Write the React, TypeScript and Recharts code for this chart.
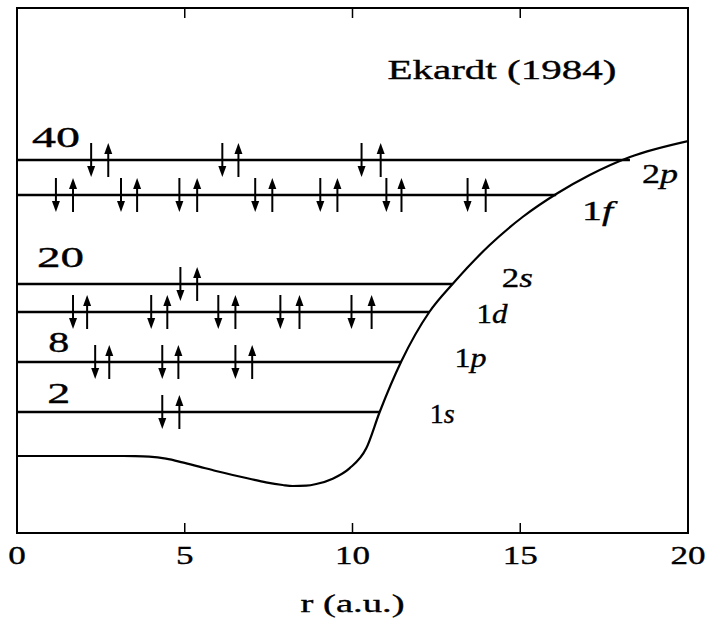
import React from 'react';
import { ComposedChart, Line, Scatter, XAxis, YAxis, ReferenceArea, ReferenceDot } from 'recharts';

const FONT = '"Liberation Serif", "Times New Roman", Times, serif';

// ---- data (r in a.u., energy in arbitrary units) ----
const potentialR = [0, 3.0, 3.5, 3.94, 4.44, 4.93, 5.43, 5.93, 6.43, 6.93, 7.42, 7.92, 8.22, 8.62, 8.92, 9.41, 9.91, 10.41, 10.81, 11.46, 12.29, 13.01, 14.09, 15.07, 16.12, 17.07, 18.27, 20];
const potentialE = [1.54, 1.54, 1.537, 1.527, 1.487, 1.413, 1.327, 1.24, 1.16, 1.085, 1.013, 0.96, 0.94, 0.947, 0.98, 1.087, 1.293, 1.693, 2.42, 3.44, 4.42, 5.0, 5.76, 6.32, 6.8, 7.16, 7.52, 7.84];

const levelNames = ['1s', '1p', '1d', '2s', '1f', '2p'];
const levelEnergies = [2.42, 3.42, 4.42, 4.98, 6.76, 7.46];
const levelEnds = [10.8, 11.45, 12.29, 12.97, 16.07, 18.27];

const spinDownR = [
  [4.33],
  [2.33, 4.33, 6.51],
  [1.67, 4.0, 6.0, 7.85, 9.97],
  [4.87],
  [1.16, 3.1, 4.84, 7.1, 9.04, 11.01, 13.43],
  [2.21, 6.12, 10.27],
];
const spinUpR = [
  [4.84],
  [2.75, 4.81, 7.01],
  [2.09, 4.48, 6.51, 8.42, 10.57],
  [5.37],
  [1.67, 3.58, 5.37, 7.61, 9.55, 11.46, 13.97],
  [2.72, 6.6, 10.84],
];

const magicNumbers = ['2', '8', '20', '40'];
const xTicks = [0, 5, 10, 15, 20];
const topTicks = [5, 10, 15];
const titleText = 'Ekardt (1984)';
const xLabelText = 'r (a.u.)';

// ---- annotation placement (data coordinates) ----
const magicPos = [
  { r: 0.9, E: 2.6, w: 23 },
  { r: 0.93, E: 3.62, w: 21 },
  { r: 0.6, E: 5.32, w: 47 },
  { r: 0.45, E: 7.72, w: 48 },
];
const orbitalPos = [
  { r: 12.3, E: 2.2, w: 25 },
  { r: 13.04, E: 3.32, w: 32 },
  { r: 13.7, E: 4.2, w: 31 },
  { r: 14.45, E: 4.92, w: 31 },
  { r: 16.84, E: 6.26, w: 31 },
  { r: 18.63, E: 7.0, w: 36 },
];
const titlePos = { r: 11.04, E: 9.08, w: 229 };

// ---- derived tables ----
const potentialData = potentialR.map((r, i) => ({ r, E: potentialE[i] }));
const levelData = levelNames.map((name, i) => ({
  name,
  points: [
    { r: 0, E: levelEnergies[i] },
    { r: levelEnds[i], E: levelEnergies[i] },
  ],
}));
const spinData: { r: number; E: number; dir: string }[] = [];
levelNames.forEach((_, i) => {
  spinDownR[i].forEach((r) => spinData.push({ r, E: levelEnergies[i], dir: 'down' }));
  spinUpR[i].forEach((r) => spinData.push({ r, E: levelEnergies[i], dir: 'up' }));
});

const SpinArrow = (props: any) => {
  const { cx, cy, payload } = props;
  if (cx == null || cy == null) return null;
  const L = 17;
  const h = 11;
  const w = 4;
  if (payload.dir === 'down') {
    return (
      <g>
        <line x1={cx} x2={cx} y1={cy - L} y2={cy + L - h + 1} stroke="#000" strokeWidth={2} />
        <polygon points={`${cx - w},${cy + L - h} ${cx + w},${cy + L - h} ${cx},${cy + L}`} fill="#000" />
      </g>
    );
  }
  return (
    <g>
      <line x1={cx} x2={cx} y1={cy + L} y2={cy - L + h - 1} stroke="#000" strokeWidth={2} />
      <polygon points={`${cx - w},${cy - L + h} ${cx + w},${cy - L + h} ${cx},${cy - L}`} fill="#000" />
    </g>
  );
};

const BottomTick = (props: any) => {
  const { x, y, payload } = props;
  return (
    <g>
      <line x1={x} x2={x} y1={y} y2={y - 10} stroke="#000" strokeWidth={1.5} />
      <text
        x={0}
        y={0}
        textAnchor="middle"
        fontFamily={FONT}
        fontSize={26}
        fill="#000"
        stroke="#000"
        strokeWidth={0.35}
        transform={`translate(${x} ${y + 31}) scale(1.35 1)`}
      >
        {payload.value}
      </text>
    </g>
  );
};

const TopTick = (props: any) => {
  const { x, y } = props;
  return <line x1={x} x2={x} y1={y} y2={y + 10} stroke="#000" strokeWidth={1.5} />;
};

const textShape = (content: React.ReactNode, width: number, size: number) => (props: any) => {
  const { cx, cy } = props;
  return (
    <text
      x={cx}
      y={cy}
      fontFamily={FONT}
      fontSize={size}
      fill="#000"
      stroke="#000"
      strokeWidth={0.35}
      textLength={width}
      lengthAdjust="spacingAndGlyphs"
    >
      {content}
    </text>
  );
};

const XLabel = (props: any) => {
  const { viewBox } = props;
  const cx = viewBox.x + viewBox.width / 2;
  return (
    <text
      x={cx}
      y={viewBox.y + 79}
      textAnchor="middle"
      fontFamily={FONT}
      fontSize={26}
      fill="#000"
      stroke="#000"
      strokeWidth={0.35}
      textLength={104}
      lengthAdjust="spacingAndGlyphs"
    >
      {xLabelText}
    </text>
  );
};

export default function App() {
  return (
    <div style={{ position: 'absolute', left: 0, top: 0, background: '#fff' }}>
      <ComposedChart width={706} height={619} margin={{ top: 6, right: 18, bottom: 46, left: 17 }}>
        <XAxis
          xAxisId={0}
          type="number"
          dataKey="r"
          domain={[0, 20]}
          ticks={xTicks}
          interval={0}
          height={40}
          axisLine={false}
          tickLine={false}
          tickSize={0}
          tickMargin={0}
          tick={<BottomTick />}
          label={<XLabel />}
          allowDataOverflow
        />
        <XAxis
          xAxisId="top"
          orientation="top"
          type="number"
          dataKey="r"
          domain={[0, 20]}
          ticks={topTicks}
          interval={0}
          height={2}
          axisLine={false}
          tickLine={false}
          tickSize={0}
          tickMargin={0}
          tick={<TopTick />}
          allowDataOverflow
        />
        <YAxis type="number" dataKey="E" domain={[0, 10.5]} hide allowDataOverflow />
        <ReferenceArea
          x1={0}
          x2={20}
          y1={0}
          y2={10.5}
          fill="none"
          fillOpacity={0}
          stroke="#000"
          strokeWidth={2}
          ifOverflow="visible"
        />
        <Line
          data={potentialData}
          dataKey="E"
          type="monotone"
          stroke="#000"
          strokeWidth={2.2}
          dot={false}
          activeDot={false}
          isAnimationActive={false}
        />
        {levelData.map((lv) => (
          <Line
            key={lv.name}
            data={lv.points}
            dataKey="E"
            type="linear"
            stroke="#000"
            strokeWidth={2.5}
            dot={false}
            activeDot={false}
            isAnimationActive={false}
          />
        ))}
        <Scatter data={spinData} dataKey="E" shape={<SpinArrow />} isAnimationActive={false} />
        {magicNumbers.map((m, i) => (
          <ReferenceDot
            key={'m' + m}
            x={magicPos[i].r}
            y={magicPos[i].E}
            r={0}
            ifOverflow="visible"
            shape={textShape(m, magicPos[i].w, 29)}
          />
        ))}
        {levelNames.map((name, i) => (
          <ReferenceDot
            key={'o' + name}
            x={orbitalPos[i].r}
            y={orbitalPos[i].E}
            r={0}
            ifOverflow="visible"
            shape={textShape(
              <>
                {name[0]}
                <tspan fontStyle="italic">{name.slice(1)}</tspan>
              </>,
              orbitalPos[i].w,
              27
            )}
          />
        ))}
        <ReferenceDot
          x={titlePos.r}
          y={titlePos.E}
          r={0}
          ifOverflow="visible"
          shape={textShape(titleText, titlePos.w, 28)}
        />
      </ComposedChart>
    </div>
  );
}
